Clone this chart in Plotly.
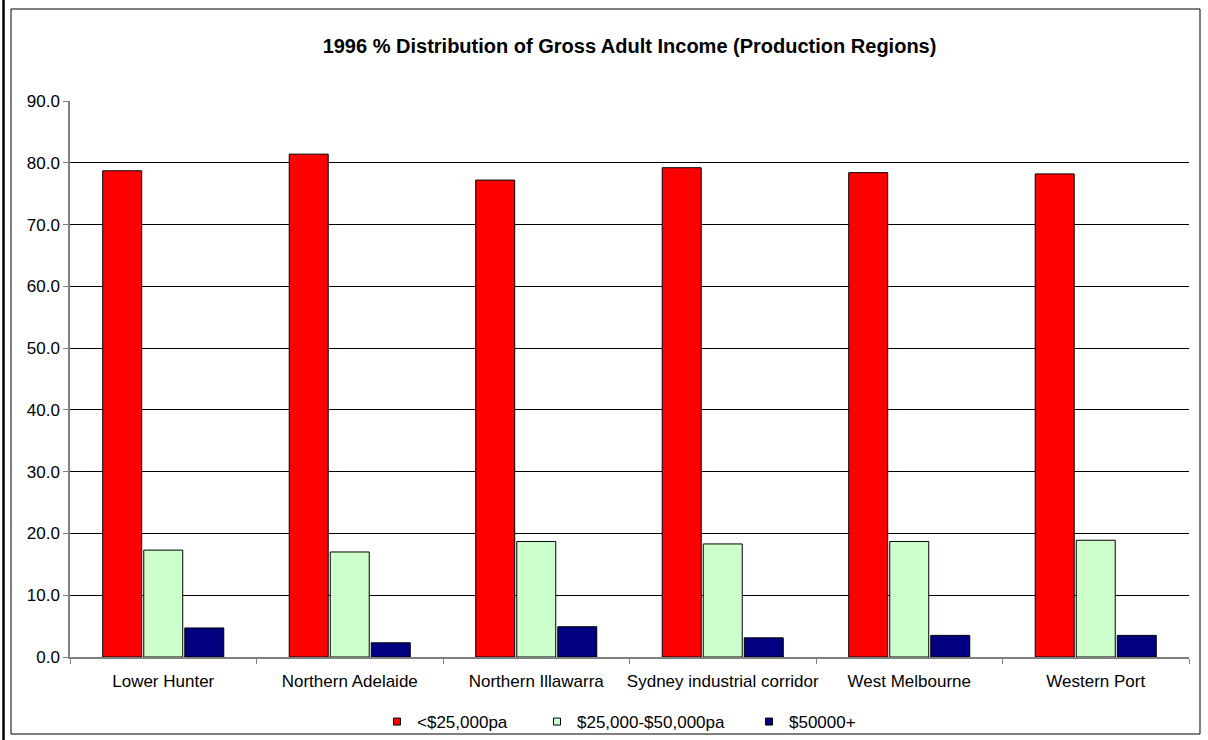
import plotly.graph_objects as go

categories = ["Lower Hunter", "Northern Adelaide", "Northern Illawarra",
              "Sydney industrial corridor", "West Melbourne", "Western Port"]
series_names = ["<$25,000pa", "$25,000-$50,000pa", "$50000+"]
low_income = [78.7, 81.4, 77.2, 79.2, 78.4, 78.2]
mid_income = [17.3, 17.0, 18.7, 18.3, 18.7, 18.9]
high_income = [4.7, 2.3, 4.9, 3.1, 3.5, 3.5]
colors = ["#FF0000", "#CCFFCC", "#000080"]
y_ticks = [0, 10, 20, 30, 40, 50, 60, 70, 80, 90]

W, H = 1208, 740
L, R, T, B = 70, 1189, 101, 657  # plot area in pixels

def px_x(p):
    return (p - L) / (R - L)

def px_y(p):
    return (B - p) / (B - T)

FONT = "Arial, Liberation Sans, sans-serif"

legend_ids = ["legend", "legend2", "legend3"]
legend_left_px = [377, 537, 749]

fig = go.Figure()
for name, vals, col, lid in zip(series_names, [low_income, mid_income, high_income], colors, legend_ids):
    fig.add_trace(go.Bar(x=categories, y=vals, name=name, showlegend=False, legendgroup=name,
                         marker=dict(color=col, line=dict(color="#000000", width=1))))
    fig.add_trace(go.Scatter(x=[None], y=[None], mode="markers", name=name, legendgroup=name,
                             legend=lid, showlegend=True,
                             marker=dict(symbol="square", size=7, color=col,
                                         line=dict(color="#000000", width=1))))

legend_layouts = {}
for lid, lx in zip(legend_ids, legend_left_px):
    legend_layouts[lid] = dict(orientation="h", x=px_x(lx), xanchor="left",
                               y=px_y(722), yanchor="middle",
                               font=dict(family=FONT, size=17, color="#000000"),
                               bgcolor="rgba(0,0,0,0)", borderwidth=0,
                               itemwidth=30, itemsizing="trace")

fig.update_layout(
    width=W, height=H,
    margin=dict(l=L, r=W - R, t=T, b=H - B, autoexpand=False),
    paper_bgcolor="white", plot_bgcolor="white",
    font=dict(family=FONT, size=17, color="#000000"),
    barmode="group", bargap=0.34, bargroupgap=0.05,
    title=dict(text="<b>1996 % Distribution of Gross Adult Income (Production Regions)</b>",
               font=dict(family=FONT, size=20, color="#000000"),
               x=0.5, xref="paper", xanchor="center",
               y=1 - 46 / H, yref="container", yanchor="middle"),
    showlegend=True,
    xaxis=dict(showline=True, linecolor="#808080", linewidth=1.5,
               ticks="outside", tickson="boundaries", ticklen=5, tickcolor="#808080",
               showgrid=False, tickangle=0, tickfont=dict(size=17),
               ticklabelstandoff=8),
    yaxis=dict(range=[0, 90], tickvals=y_ticks, tickformat=".1f",
               showline=True, linecolor="#808080", linewidth=1.5,
               ticks="outside", ticklen=5, tickcolor="#808080",
               showgrid=True, gridcolor="#000000", gridwidth=1,
               zeroline=False, tickfont=dict(size=17)),
    shapes=[
        dict(type="line", xref="paper", yref="paper",
             x0=px_x(3.5), x1=px_x(3.5), y0=px_y(0), y1=px_y(740),
             line=dict(color="#000000", width=2.5)),
        dict(type="rect", xref="paper", yref="paper",
             x0=px_x(11), x1=px_x(1200), y0=px_y(9), y1=px_y(734),
             line=dict(color="#000000", width=1)),
    ],
    **legend_layouts,
)

fig.write_html("out.html")
